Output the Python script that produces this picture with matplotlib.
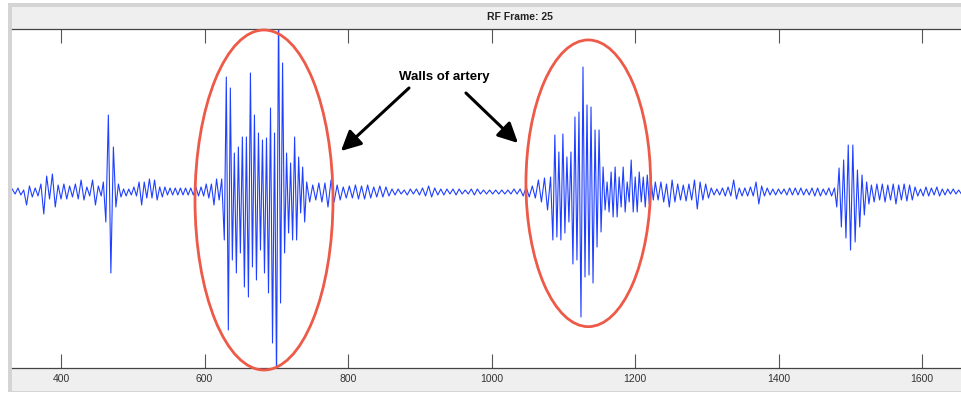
import numpy as np
import matplotlib
matplotlib.use('Agg')
import matplotlib.pyplot as plt
from matplotlib.patches import Ellipse, Rectangle

plt.rcParams['font.family'] = ['Liberation Sans', 'DejaVu Sans']

# RF line:
# first sample index, spacing between extrema, signed extremum amplitudes.
seg_start = [332.0, 459.0, 480.0, 627.6, 746.6, 1085.5, 1228.3, 1478.0, 1529.5]
seg_step = [4.0, 3.5, 3.6, 2.8, 4.25, 2.8, 3.9, 3.2, 3.8]

amp_near_field = [3, -2, 4, -3, 2, -13, 6, -5, 4, -4, 8, -22, 16, -7, 18, -15,
                  7, -7, 8, -7, 6, -5, 8, -7, 12, -8, 5, -4, 12, -13, 6, -4]
amp_spike = [10, -30, 77, -81, 45, -15]
amp_gap = [8, -5, 3, -4, 3, -3, 5, -4, 10, -13, 10, -6, 13, -6, 12, -8, 5, -5, 5, -3,
           4, -3, 4, -3, 4, -3, 4, -3, 4, -3, 5, -4, 5, -4, 8, -6, 8, -13, 13, -8, 13]
amp_near_wall = [-48, 115, -138, 104, -68, 39, -81, 45, -61, 55, -95, 55, -105, 119,
                 -75, 77, -88, 59, -58, 52, -81, 54, -101, 84, -151, 59, -190, 190,
                 -111, 129, -61, 39, -41, 29, -48, 55, -48, 35, -21, 25, -30, 10]
amp_lumen = [-10, 7, -8, 9, -10, 9, -15, 12, -10, 7, -8, 5, -6, 6,
             -6, 7, -7, 6, -7, 7, -6, 5, -5, 6, -5, 5, -4,
             3, -3, 3, -2, 2, -3, 3, -2, 3, -3, 4, -4, 6, -5, 4, -3, 3, -3, 3, -2,
             3, -3, 3, -2, 2, -2, 3, -3, 3, -2, 2, -2, 2, -2, 2, -2, 2, -2,
             2, -2, 3, -2, 3, -4, 5, -5, 6, -6, 12, -10, 14, -18, 15]
amp_far_wall = [-48, 57, -45, 40, -48, 58, -41, 35, -30, 40, -72, 75, -68, 80, -125,
                125, -85, 87, -83, 85, -91, 62, -55, 62, -40, 25, -18, 10, -20, 20,
                -25, 25, -25, 15, -15, 25, -20, 10, -10, 32, -20, 15, -20, 20, -10,
                15, -15, 17, -12, 10, -8]
amp_tissue = [10, -8, 10, -10, 8, -15, 12, -10, 8, -8, 7, -9, 8, -8, 12, -17,
              10, -8, 8, -6, 4, -3, 3, -3, 4, -4, 5, -4, 12, -7, 4, -4, 4, -4,
              5, -4, 10, -12, 6, -4, 4, -3, 3, -3, 3, -2, 3, -3, 4, -3, 4, -3,
              4, -3, 3, -3, 4, -4, 4, -4, 3, -3, 4, -4]
amp_echo = [4, -15, 24, -35, 32, -46, 47, -58, 47, -50, 22, -35, 17, -23, 10, -12]
amp_far_field = [7, -10, 8, -8, 8, -10, 7, -8, 8, -12, 7, -8, 8, -9, 7, -8, 5, -4,
                 3, -4, 5, -4, 4, -3, 5, -4, 3, -3, 3, -2, 3, -2, 2, -2, 3, -2]

segments = [amp_near_field, amp_spike, amp_gap, amp_near_wall, amp_lumen,
            amp_far_wall, amp_tissue, amp_echo, amp_far_field]

x_ticks = [400, 600, 800, 1000, 1200, 1400, 1600]

xs, ys = [], []
for start, step, amps in zip(seg_start, seg_step, segments):
    xs.append(start + step * np.arange(len(amps)))
    ys.append(np.array(amps, dtype=float))
x = np.concatenate(xs)
y = np.concatenate(ys)

W, H = 961, 393
fig = plt.figure(figsize=(W / 100, H / 100), dpi=100)
fig.patch.set_facecolor('white')

# window frame and grey panels
fig.patches.append(Rectangle((8 / W, 1 - 392 / H), 1, 389 / H, transform=fig.transFigure,
                             facecolor='#d4d4d4', edgecolor='none', zorder=-3))
fig.patches.append(Rectangle((12 / W, 1 - 391 / H), 1, 384 / H, transform=fig.transFigure,
                             facecolor='#efefef', edgecolor='none', zorder=-2))

ax = fig.add_axes([12 / W, (H - 368) / H, (970 - 12) / W, 339 / H])
ax.set_facecolor('white')
ax.plot(x, y, color='#2040ff', lw=0.8)

ax.set_xlim(331.7, 1666.9)
ax.set_ylim(-176, 163)
ax.set_xticks(x_ticks)
ax.set_yticks([])
ax.tick_params(axis='x', direction='in', length=10, width=0.8, color='#555555',
               top=True, labelsize=7.5, labelcolor='#333333', pad=4)
for side in ['left', 'right']:
    ax.spines[side].set_visible(False)
for side in ['top', 'bottom']:
    ax.spines[side].set_color('#444444')
    ax.spines[side].set_linewidth(0.9)

fig.text(519.5 / W, 1 - 17.5 / H, 'RF Frame: 25', ha='center', va='center',
         fontsize=7.5, fontweight='bold', color='#222222')

# wall markers
ring = '#ee5a48'
ax.add_patch(Ellipse((682.9, -8), 192.3, 340, fill=False, edgecolor=ring, lw=2.0,
                     clip_on=False, zorder=3))
ax.add_patch(Ellipse((1134.9, 8.7), 173.8, 286.7, fill=False, edgecolor=ring, lw=2.0,
                     clip_on=False, zorder=3))

ax.text(934.5, 115, 'Walls of artery', ha='center', va='center',
        fontsize=9.5, fontweight='bold', color='black')
arrow = dict(arrowstyle='-|>,head_length=1.2,head_width=0.6', color='black', lw=2.2,
             shrinkA=0, shrinkB=0)
ax.annotate('', xy=(790.2, 41), xytext=(885.0, 104), arrowprops=arrow)
ax.annotate('', xy=(1036.9, 49), xytext=(964.4, 99), arrowprops=arrow)

fig.savefig('out.png', dpi=100)
